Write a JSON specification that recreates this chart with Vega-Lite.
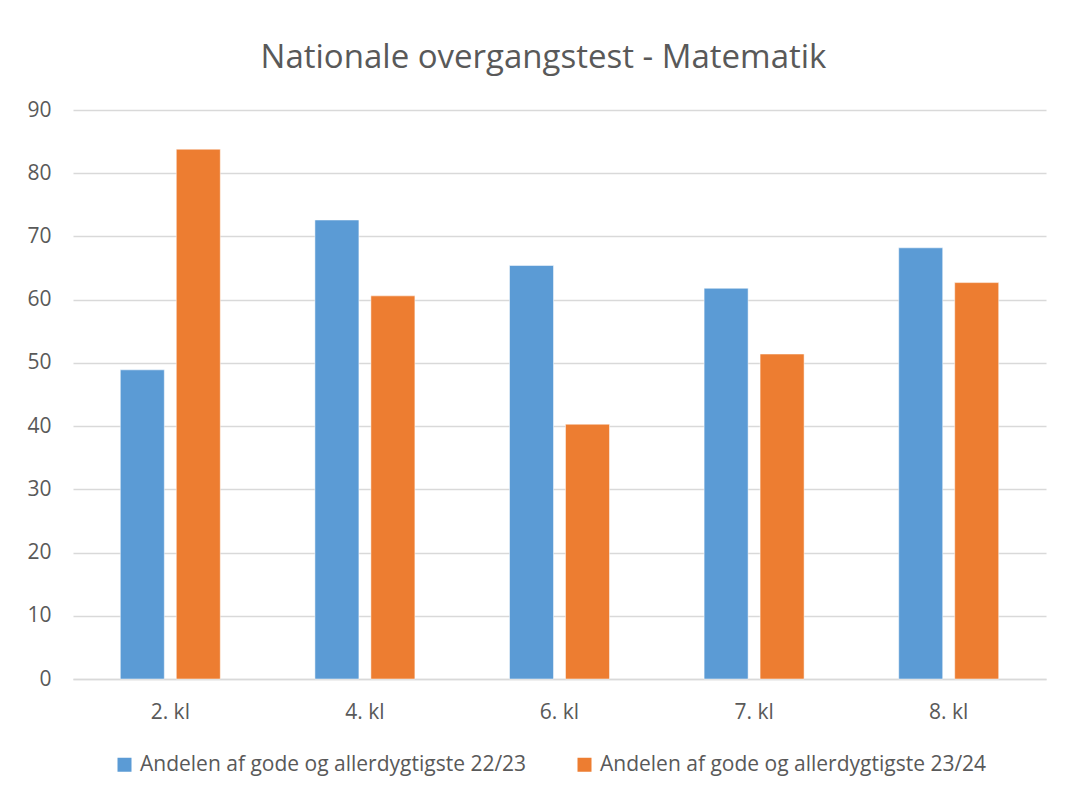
{
  "$schema": "https://vega.github.io/schema/vega-lite/v6.json",
  "width": 973,
  "height": 569,
  "autosize": {"type": "none"},
  "padding": {"left": 73, "top": 110, "right": 24, "bottom": 119},
  "background": "white",
  "title": {
    "text": "Nationale overgangstest - Matematik",
    "font": "Open Sans",
    "fontSize": 33,
    "fontWeight": "normal",
    "color": "#595959",
    "anchor": "middle",
    "offset": 24,
    "dx": -16
  },
  "data": {
    "values": [
      {"klasse": "2. kl", "serie": "Andelen af gode og allerdygtigste 22/23", "andel": 48.9},
      {"klasse": "2. kl", "serie": "Andelen af gode og allerdygtigste 23/24", "andel": 83.8},
      {"klasse": "4. kl", "serie": "Andelen af gode og allerdygtigste 22/23", "andel": 72.6},
      {"klasse": "4. kl", "serie": "Andelen af gode og allerdygtigste 23/24", "andel": 60.6},
      {"klasse": "6. kl", "serie": "Andelen af gode og allerdygtigste 22/23", "andel": 65.4},
      {"klasse": "6. kl", "serie": "Andelen af gode og allerdygtigste 23/24", "andel": 40.3},
      {"klasse": "7. kl", "serie": "Andelen af gode og allerdygtigste 22/23", "andel": 61.8},
      {"klasse": "7. kl", "serie": "Andelen af gode og allerdygtigste 23/24", "andel": 51.4},
      {"klasse": "8. kl", "serie": "Andelen af gode og allerdygtigste 22/23", "andel": 68.2},
      {"klasse": "8. kl", "serie": "Andelen af gode og allerdygtigste 23/24", "andel": 62.7}
    ]
  },
  "mark": {"type": "bar", "stroke": "white", "strokeWidth": 0.5},
  "encoding": {
    "x": {
      "field": "klasse",
      "type": "nominal",
      "scale": {"paddingInner": 0, "paddingOuter": 0},
      "axis": {
        "title": null,
        "labelAngle": 0,
        "ticks": false,
        "labelPadding": 22,
        "labelFont": "Open Sans",
        "labelFontSize": 21,
        "labelColor": "#595959",
        "domainColor": "#D9D9D9",
        "domainWidth": 1.5,
        "grid": false
      }
    },
    "xOffset": {
      "field": "serie",
      "type": "nominal",
      "scale": {"paddingInner": 0.214, "paddingOuter": 0.845}
    },
    "y": {
      "field": "andel",
      "type": "quantitative",
      "scale": {"domain": [0, 90]},
      "axis": {
        "title": null,
        "values": [0, 10, 20, 30, 40, 50, 60, 70, 80, 90],
        "ticks": false,
        "domain": false,
        "labelPadding": 22,
        "labelFont": "Open Sans",
        "labelFontSize": 21,
        "labelColor": "#595959",
        "gridColor": "#D9D9D9",
        "gridWidth": 1.5
      }
    },
    "color": {
      "field": "serie",
      "type": "nominal",
      "scale": {"range": ["#5B9BD5", "#ED7D31"]},
      "legend": {
        "title": null,
        "orient": "none",
        "legendX": 41,
        "legendY": 644,
        "direction": "horizontal",
        "symbolType": "square",
        "symbolSize": 196,
        "symbolStrokeWidth": 0,
        "labelFont": "Open Sans",
        "labelFontSize": 21,
        "labelColor": "#595959",
        "labelOffset": 5,
        "columnPadding": 47,
        "labelLimit": 600
      }
    }
  },
  "config": {
    "view": {"stroke": null}
  }
}
